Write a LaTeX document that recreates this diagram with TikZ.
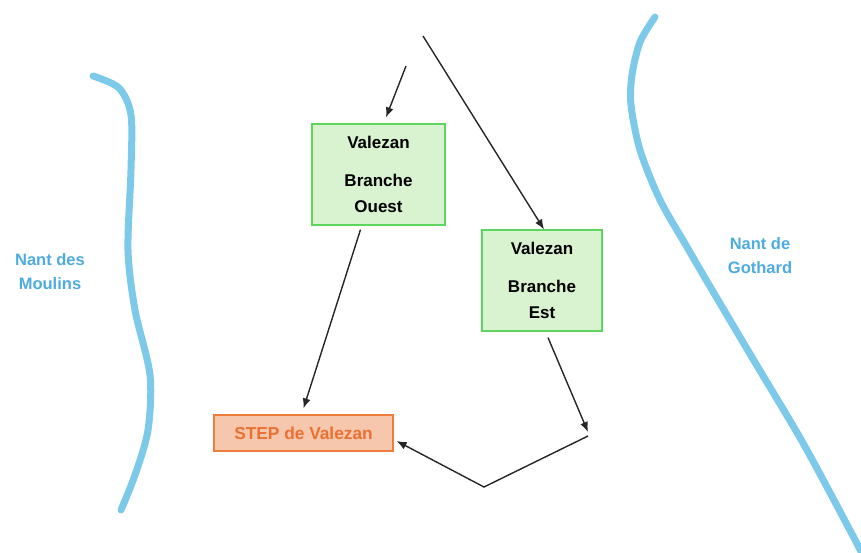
\documentclass[tikz,border=0pt]{standalone}
\usepackage{fontspec}
\setmainfont{Liberation Sans}
\usetikzlibrary{positioning,arrows.meta}

\definecolor{vertfond}{HTML}{D9F2D0}
\definecolor{vertbord}{HTML}{5CD65C}
\definecolor{stepfond}{HTML}{F6C6AD}
\definecolor{stepbord}{HTML}{EE7D3C}
\definecolor{steptexte}{HTML}{E97132}
\definecolor{eau}{HTML}{7DC9EA}
\definecolor{eautexte}{HTML}{4EABE0}

\begin{document}
\begin{tikzpicture}[x=1pt, y=-1pt, >={Latex[length=10pt,width=8pt]},
    every node/.style={font=\bfseries},
    branche/.style={draw=vertbord, fill=vertfond, line width=1.2pt, align=center,
      minimum height=101pt, inner sep=0pt, font=\bfseries\fontsize{17}{26}\selectfont},
    stepbox/.style={draw=stepbord, fill=stepfond, line width=1.2pt, text=steptexte,
      minimum width=179pt, minimum height=36pt, inner sep=0pt, font=\bfseries\fontsize{17.3}{20}\selectfont},
    nant/.style={text=eautexte, align=center, font=\bfseries\fontsize{16.5}{24}\selectfont},
    riviere/.style={draw=eau, line width=7pt, line cap=round},
    fleche/.style={->, line width=1.4pt, draw=black!85}]
    \useasboundingbox (0,0) rectangle (861,552);

    % rivieres
    \draw[riviere] plot[smooth] coordinates {(93,76) (119,88) (131,115) (131,170) (128,250) (135,310) (150,375) (148,430) (135,475) (121,510)};
    \draw[riviere] plot[smooth] coordinates {(655,17) (640,42) (632,75) (631,105) (640,150) (660,200) (687,247) (705,278) (753,359) (803,443) (853,536) (865,560)};

    \node[nant] (moulins) at (50,272) {Nant des\\Moulins};
    \node[nant] (gothard) at (760,256) {Nant de\\Gothard};

    % branches et STEP
    \node[branche, minimum width=133pt] (ouest) at (378.5,174.5) {Valezan\\[12pt]Branche\\Ouest};
    \node[branche, minimum width=120pt] (est) at (542,280.5) {Valezan\\[12pt]Branche\\Est};
    \node[stepbox] (step) at (303.5,433) {STEP de Valezan};

    \coordinate (srcO) at (406,66);
    \coordinate (srcE) at (423,36);
    \coordinate (coude) at (588,432);
    \coordinate (creux) at (484,487);

    \draw[fleche] (srcO) -- ([xshift=7.5pt,yshift=6pt]ouest.north);
    \draw[fleche] (srcE) -- ([xshift=2pt]est.north);
    \draw[fleche] ([xshift=-18pt,yshift=-4pt]ouest.south) -- ([yshift=6pt]step.north);
    \draw[fleche] ([xshift=6pt,yshift=-6pt]est.south) -- (coude);
    \draw[fleche] ([yshift=-4pt]coude) -- (creux) -- ([xshift=3pt,yshift=-8pt]step.east);
\end{tikzpicture}
\end{document}
